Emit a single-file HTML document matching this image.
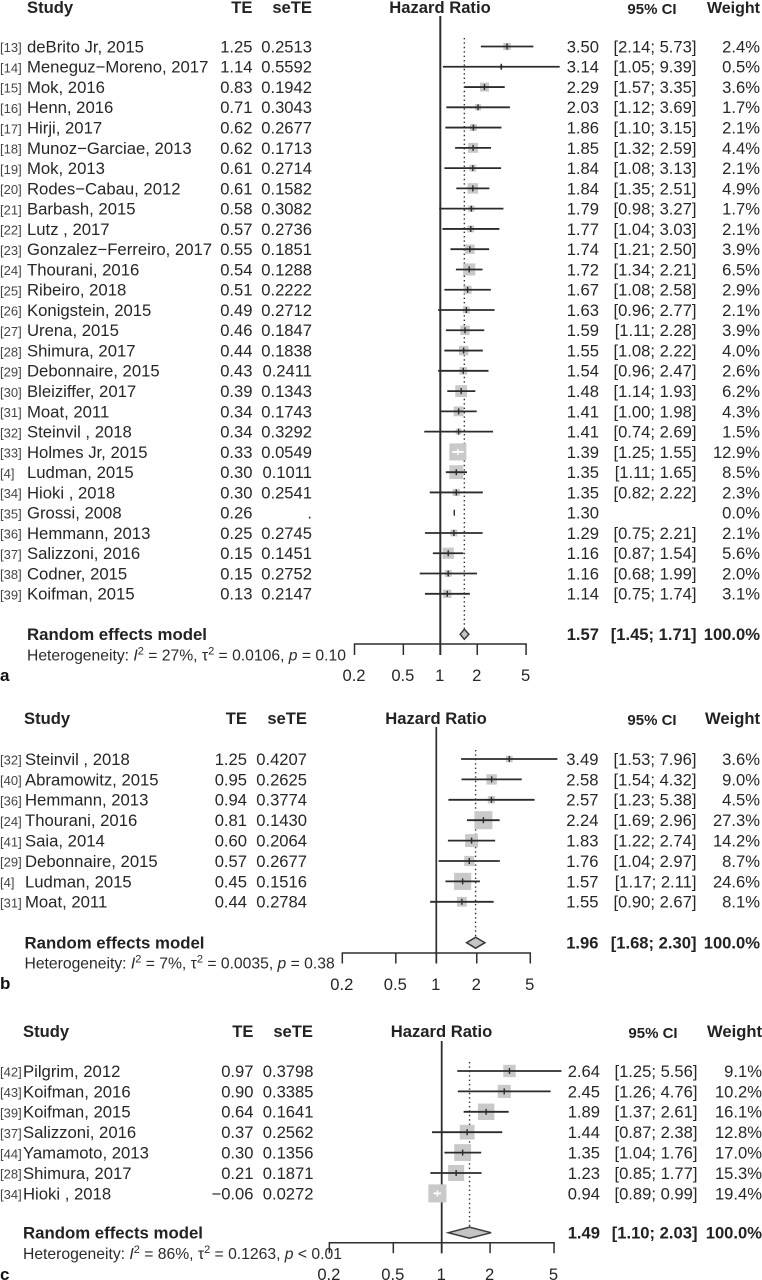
<!DOCTYPE html>
<html lang="en">
<head>
<meta charset="utf-8">
<title>Forest plots of hazard ratios</title>
<style>
html,body{margin:0;padding:0;background:#fff;}
svg{display:block;font-family:"Liberation Sans",Arial,sans-serif;fill:#262626;}
.b{font-weight:bold;font-size:16.6px;fill:#222;}
.h{font-size:15.7px;fill:#2a2a2a;}
.i{font-style:italic;}
.s{font-size:11px;}
.panel{font-weight:bold;font-size:17px;fill:#111;}
</style>
</head>
<body>
<svg id="chart" width="762" height="1280" viewBox="0 0 762 1280" xmlns="http://www.w3.org/2000/svg">
  <rect x="0" y="0" width="762" height="1280" fill="#fff"/>

  <g>
    <text class="b" x="27" y="13">Study</text>
    <text class="b" x="252.5" y="13" text-anchor="end">TE</text>
    <text class="b" x="312" y="13" text-anchor="end">seTE</text>
    <text class="b" x="440" y="13" text-anchor="middle">Hazard Ratio</text>
    <text class="b" style="font-size:15px" x="652" y="14" text-anchor="middle">95% CI</text>
    <text class="b" style="font-size:16px" x="760" y="13" text-anchor="end">Weight</text>
  </g>
  <text class="h" x="27" y="660.5">Heterogeneity: <tspan class="i">I</tspan><tspan class="s" dy="-6">2</tspan><tspan dy="6"> = 27%, τ</tspan><tspan class="s" dy="-6">2</tspan><tspan dy="6"> = 0.0106, </tspan><tspan class="i">p</tspan> = 0.10</text>
  <text class="panel" x="0" y="681">a</text>

  <g>
    <text class="b" x="24" y="724">Study</text>
    <text class="b" x="247" y="724" text-anchor="end">TE</text>
    <text class="b" x="307" y="724" text-anchor="end">seTE</text>
    <text class="b" x="436" y="724" text-anchor="middle">Hazard Ratio</text>
    <text class="b" style="font-size:15px" x="652" y="725" text-anchor="middle">95% CI</text>
    <text class="b" x="760" y="724" text-anchor="end">Weight</text>
  </g>
  <text class="h" x="24.5" y="968.5">Heterogeneity: <tspan class="i">I</tspan><tspan class="s" dy="-6">2</tspan><tspan dy="6"> = 7%, τ</tspan><tspan class="s" dy="-6">2</tspan><tspan dy="6"> = 0.0035, </tspan><tspan class="i">p</tspan> = 0.38</text>
  <text class="panel" x="0" y="989">b</text>

  <g>
    <text class="b" x="23" y="1037">Study</text>
    <text class="b" x="253.5" y="1037" text-anchor="end">TE</text>
    <text class="b" x="313" y="1037" text-anchor="end">seTE</text>
    <text class="b" x="441.5" y="1037" text-anchor="middle">Hazard Ratio</text>
    <text class="b" style="font-size:15px" x="653" y="1038" text-anchor="middle">95% CI</text>
    <text class="b" x="762" y="1037" text-anchor="end">Weight</text>
  </g>
  <text class="h" x="23" y="1259">Heterogeneity: <tspan class="i">I</tspan><tspan class="s" dy="-6">2</tspan><tspan dy="6"> = 86%, τ</tspan><tspan class="s" dy="-6">2</tspan><tspan dy="6"> = 0.1263, </tspan><tspan class="i">p</tspan> &lt; 0.01</text>
  <text class="panel" x="0" y="1280">c</text>
</svg>

<script>
// ---------- shared axis data ----------
const tickValues = [0.2, 0.5, 1, 2, 5];
const tickLabels = ["0.2", "0.5", "1", "2", "5"];

// ---------- panel a data ----------
const refsA = [13,14,15,16,17,18,19,20,21,22,23,24,25,26,27,28,29,30,31,32,33,4,34,35,36,37,38,39];
const studiesA = ["deBrito Jr, 2015","Meneguz−Moreno, 2017","Mok, 2016","Henn, 2016","Hirji, 2017","Munoz−Garciae, 2013","Mok, 2013","Rodes−Cabau, 2012","Barbash, 2015","Lutz , 2017","Gonzalez−Ferreiro, 2017","Thourani, 2016","Ribeiro, 2018","Konigstein, 2015","Urena, 2015","Shimura, 2017","Debonnaire, 2015","Bleiziffer, 2017","Moat, 2011","Steinvil , 2018","Holmes Jr, 2015","Ludman, 2015","Hioki , 2018","Grossi, 2008","Hemmann, 2013","Salizzoni, 2016","Codner, 2015","Koifman, 2015"];
const teA = [1.25,1.14,0.83,0.71,0.62,0.62,0.61,0.61,0.58,0.57,0.55,0.54,0.51,0.49,0.46,0.44,0.43,0.39,0.34,0.34,0.33,0.30,0.30,0.26,0.25,0.15,0.15,0.13];
const seA = [0.2513,0.5592,0.1942,0.3043,0.2677,0.1713,0.2714,0.1582,0.3082,0.2736,0.1851,0.1288,0.2222,0.2712,0.1847,0.1838,0.2411,0.1343,0.1743,0.3292,0.0549,0.1011,0.2541,null,0.2745,0.1451,0.2752,0.2147];
const hrA = [3.50,3.14,2.29,2.03,1.86,1.85,1.84,1.84,1.79,1.77,1.74,1.72,1.67,1.63,1.59,1.55,1.54,1.48,1.41,1.41,1.39,1.35,1.35,1.30,1.29,1.16,1.16,1.14];
const loA = [2.14,1.05,1.57,1.12,1.10,1.32,1.08,1.35,0.98,1.04,1.21,1.34,1.08,0.96,1.11,1.08,0.96,1.14,1.00,0.74,1.25,1.11,0.82,null,0.75,0.87,0.68,0.75];
const hiA = [5.73,9.39,3.35,3.69,3.15,2.59,3.13,2.51,3.27,3.03,2.50,2.21,2.58,2.77,2.28,2.22,2.47,1.93,1.98,2.69,1.55,1.65,2.22,null,2.21,1.54,1.99,1.74];
const weightA = [2.4,0.5,3.6,1.7,2.1,4.4,2.1,4.9,1.7,2.1,3.9,6.5,2.9,2.1,3.9,4.0,2.6,6.2,4.3,1.5,12.9,8.5,2.3,0.0,2.1,5.6,2.0,3.1];
const pooledHrA = 1.57;
const pooledLoA = 1.45;
const pooledHiA = 1.71;

// ---------- panel b data ----------
const refsB = [32,40,36,24,41,29,4,31];
const studiesB = ["Steinvil , 2018","Abramowitz, 2015","Hemmann, 2013","Thourani, 2016","Saia, 2014","Debonnaire, 2015","Ludman, 2015","Moat, 2011"];
const teB = [1.25,0.95,0.94,0.81,0.60,0.57,0.45,0.44];
const seB = [0.4207,0.2625,0.3774,0.1430,0.2064,0.2677,0.1516,0.2784];
const hrB = [3.49,2.58,2.57,2.24,1.83,1.76,1.57,1.55];
const loB = [1.53,1.54,1.23,1.69,1.22,1.04,1.17,0.90];
const hiB = [7.96,4.32,5.38,2.96,2.74,2.97,2.11,2.67];
const weightB = [3.6,9.0,4.5,27.3,14.2,8.7,24.6,8.1];
const pooledHrB = 1.96;
const pooledLoB = 1.68;
const pooledHiB = 2.30;

// ---------- panel c data ----------
const refsC = [42,43,39,37,44,28,34];
const studiesC = ["Pilgrim, 2012","Koifman, 2016","Koifman, 2015","Salizzoni, 2016","Yamamoto, 2013","Shimura, 2017","Hioki , 2018"];
const teC = [0.97,0.90,0.64,0.37,0.30,0.21,-0.06];
const seC = [0.3798,0.3385,0.1641,0.2562,0.1356,0.1871,0.0272];
const hrC = [2.64,2.45,1.89,1.44,1.35,1.23,0.94];
const loC = [1.25,1.26,1.37,0.87,1.04,0.85,0.89];
const hiC = [5.56,4.76,2.61,2.38,1.76,1.77,0.99];
const weightC = [9.1,10.2,16.1,12.8,17.0,15.3,19.4];
const pooledHrC = 1.49;
const pooledLoC = 1.10;
const pooledHiC = 2.03;

const NS = "http://www.w3.org/2000/svg";
const root = document.getElementById("chart");

function make(tag, attrs, parent, text) {
  const node = document.createElementNS(NS, tag);
  for (const k in attrs) node.setAttribute(k, attrs[k]);
  if (text !== undefined) node.textContent = text;
  parent.appendChild(node);
  return node;
}

function fmtNum(v, d) {
  return (v < 0 ? "−" : "") + Math.abs(v).toFixed(d);
}

function drawPanel(key, d, L) {
  const xOf = v => L.x1 + L.unit * Math.log(v);
  const yOf = i => L.y0 + i * L.step;
  const ink = "#2e2e2e";

  const group = make("g", {}, root);
  
  

  // reference lines
  const noEffect = make("line", {x1:xOf(1), x2:xOf(1), y1:L.lineTop, y2:L.axisY + L.tickLen, stroke:ink, "stroke-width":L.refWidth}, group);
  
  

  const pooledLine = make("line", {x1:xOf(d.pooledHr), x2:xOf(d.pooledHr), y1:L.dotTop, y2:L.sumY - L.diaH, stroke:ink, "stroke-width":1.4, "stroke-dasharray":"1.4 3"}, group);
  
  

  // study rows
  d.studies.forEach((name, i) => {
    const y = yOf(i);
    const base = y + 5.9;
    const row = make("g", {}, group);
    
    

    const ref = make("text", {x:0, y:base - 0.2, "font-size":13, fill:"#444"}, row, "[" + d.refs[i] + "]");
    
    

    const nm = make("text", {x:L.nameX, y:base, "font-size":16.7}, row, name);
    
    

    const te = make("text", {x:L.teX, y:base, "font-size":16.6, "text-anchor":"end"}, row, fmtNum(d.te[i], 2));
    
    

    const se = make("text", {x:L.seX, y:base, "font-size":16.6, "text-anchor":"end"}, row, d.se[i] === null ? "." : d.se[i].toFixed(4));
    
    

    const hrText = make("text", {x:L.hrX, y:base, "font-size":16.6, "text-anchor":"end"}, row, d.hr[i].toFixed(2));
    
    

    if (d.lo[i] !== null) {
      const ci = make("text", {x:L.ciX, y:base, "font-size":16.6, "text-anchor":"end"}, row, "[" + d.lo[i].toFixed(2) + "; " + d.hi[i].toFixed(2) + "]");
      
      
    }

    const wt = make("text", {x:L.wtX, y:base, "font-size":16.6, "text-anchor":"end"}, row, d.weight[i].toFixed(1) + "%");
    
    

    // marks
    const cx = xOf(d.hr[i]);
    const side = L.sq * Math.sqrt(d.weight[i]);
    if (side > 0) {
      const box = make("rect", {x:cx - side / 2, y:y - side / 2, width:side, height:side, fill:"#c9c9c9"}, row);
      
      
    }
    let markColor = "#2b2b2b";
    if (d.lo[i] !== null) {
      const xl = xOf(d.lo[i]);
      const xh = xOf(d.hi[i]);
      if (xl > cx - side / 2 && xh < cx + side / 2) markColor = "#fff";
      const whisker = make("line", {x1:xl, x2:xh, y1:y, y2:y, stroke:markColor, "stroke-width":1.8}, row);
      
      
    }
    const tick = make("line", {x1:cx, x2:cx, y1:y - 3, y2:y + 3, stroke:markColor, "stroke-width":1.4}, row);
    
    
  });

  // summary row
  const sumBase = L.sumY + 5.9;
  const model = make("text", {x:L.studyX, y:sumBase, "font-size":16.8, "font-weight":"bold", fill:"#222"}, group, "Random effects model");
  
  

  const sumHr = make("text", {x:L.hrX, y:sumBase, "font-size":16.6, "font-weight":"bold", "text-anchor":"end", fill:"#222"}, group, d.pooledHr.toFixed(2));
  
  

  const sumCi = make("text", {x:L.ciX, y:sumBase, "font-size":16.6, "font-weight":"bold", "text-anchor":"end", fill:"#222"}, group, "[" + d.pooledLo.toFixed(2) + "; " + d.pooledHi.toFixed(2) + "]");
  
  

  const sumWt = make("text", {x:L.wtX, y:sumBase, "font-size":16.6, "font-weight":"bold", "text-anchor":"end", fill:"#222"}, group, "100.0%");
  
  

  const dl = xOf(d.pooledLo), dh = xOf(d.pooledHi), dc = xOf(d.pooledHr);
  const diamond = make("polygon", {points: dl + "," + L.sumY + " " + dc + "," + (L.sumY - L.diaH) + " " + dh + "," + L.sumY + " " + dc + "," + (L.sumY + L.diaH), fill:"#c4c4c4", stroke:"#3a3a3a", "stroke-width":1.5}, group);
  
  

  // axis
  const axis = make("line", {x1:xOf(tickValues[0]) - 0.7, x2:xOf(tickValues[tickValues.length - 1]) + 0.7, y1:L.axisY, y2:L.axisY, stroke:ink, "stroke-width":1.5}, group);
  
  

  tickValues.forEach((v, i) => {
    const tk = make("line", {x1:xOf(v), x2:xOf(v), y1:L.axisY, y2:L.axisY + L.tickLen, stroke:ink, "stroke-width":1.5}, group);
    
    
    const lb = make("text", {x:xOf(v) - 0.5, y:L.labelY + 6, "font-size":16.6, "text-anchor":"middle"}, group, tickLabels[i]);
    
    
  });
}

drawPanel("a",
  {refs:refsA, studies:studiesA, te:teA, se:seA, hr:hrA, lo:loA, hi:hiA, weight:weightA, pooledHr:pooledHrA, pooledLo:pooledLoA, pooledHi:pooledHiA},
  {x1:440.3, unit:53.3, y0:46.5, step:20.27, nameX:27, studyX:27, teX:252.5, seX:312, hrX:599, ciX:696.5, wtX:760, sq:4.75, sumY:634.3, diaH:5, axisY:644, tickLen:11, labelY:675, lineTop:16, dotTop:38, refWidth:2});

drawPanel("b",
  {refs:refsB, studies:studiesB, te:teB, se:seB, hr:hrB, lo:loB, hi:hiB, weight:weightB, pooledHr:pooledHrB, pooledLo:pooledLoB, pooledHi:pooledHiB},
  {x1:436.3, unit:58.4, y0:759, step:20.4, nameX:25, studyX:24.5, teX:247, seX:307, hrX:598.5, ciX:696.5, wtX:760, sq:3.45, sumY:942.7, diaH:5.5, axisY:953, tickLen:10.5, labelY:984, lineTop:727, dotTop:750, refWidth:1.7});

drawPanel("c",
  {refs:refsC, studies:studiesC, te:teC, se:seC, hr:hrC, lo:loC, hi:hiC, weight:weightC, pooledHr:pooledHrC, pooledLo:pooledLoC, pooledHi:pooledHiC},
  {x1:441.7, unit:69.8, y0:1071, step:20.4, nameX:23, studyX:23, teX:253.5, seX:313.5, hrX:600, ciX:697.5, wtX:762, sq:4.1, sumY:1232.7, diaH:5.5, axisY:1242.7, tickLen:10.5, labelY:1274, lineTop:1041, dotTop:1062, refWidth:1.8});
</script>
</body>
</html>
